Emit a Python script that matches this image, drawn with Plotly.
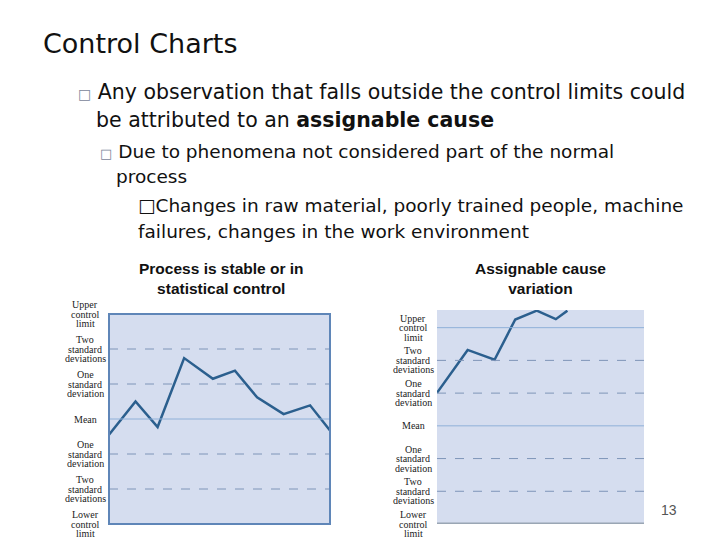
import plotly.graph_objects as go

left_x = [0, 1.2, 2.2, 3.4, 4.7, 5.7, 6.7, 7.9, 9.1, 10]
left_y = [-0.45, 0.50, -0.23, 1.74, 1.15, 1.38, 0.62, 0.14, 0.39, -0.33]
right_x = [0, 1.48, 2.78, 3.78, 4.82, 5.74, 6.3]
right_y = [1.01, 2.32, 2.02, 3.25, 3.52, 3.26, 3.52]
level_vals = [3, 2, 1, 0, -1, -2, -3]
level_labels = [["Upper", "control", "limit"], ["Two", "standard", "deviations"], ["One", "standard", "deviation"],
                ["Mean"], ["One", "standard", "deviation"], ["Two", "standard", "deviations"], ["Lower", "control", "limit"]]

LINE = "#2b5f8e"
REF = "#8fb0d8"
OFF = 8  # page body margin
fig = go.Figure()
fig.add_trace(go.Scatter(x=left_x, y=left_y, mode="lines", line=dict(color=LINE, width=2.5), xaxis="x", yaxis="y", showlegend=False))
fig.add_trace(go.Scatter(x=right_x, y=right_y, mode="lines", line=dict(color=LINE, width=2.5), xaxis="x2", yaxis="y2", showlegend=False))

ax = dict(showgrid=False, zeroline=False, showticklabels=False, ticks="", fixedrange=True)
def dx(a, b): return [(a-OFF)/720, (b-OFF)/720]
def dy(top, bot): return [(540-(bot-OFF))/540, (540-(top-OFF))/540]
fig.update_layout(
    width=720, height=540, margin=dict(l=0, r=0, t=0, b=0),
    paper_bgcolor="white", plot_bgcolor="#d5ddef",
    xaxis=dict(domain=dx(109, 330), range=[0, 10], **ax),
    yaxis=dict(domain=dy(314, 524), range=[-3, 3], **ax),
    xaxis2=dict(domain=dx(437, 644), range=[0, 10], **ax),
    yaxis2=dict(domain=dy(310, 524), range=[-3, 3.54], **ax),
)

shapes = []
for v in [2, 1, 0, -1, -2]:
    dash = "solid" if v == 0 else "dash"
    col = REF if v == 0 else "#7f95b8"
    shapes.append(dict(type="line", xref="x domain", yref="y", x0=0, x1=1, y0=v, y1=v, line=dict(color=col, width=1, dash=dash)))
for v in [3, 2, 1, 0, -1, -2]:
    dash = "solid" if v in (3, 0) else "dash"
    col = REF if v in (3, 0) else "#7f95b8"
    shapes.append(dict(type="line", xref="x2 domain", yref="y2", x0=0, x1=1, y0=v, y1=v, line=dict(color=col, width=1, dash=dash)))
shapes.append(dict(type="line", xref="x2 domain", yref="y2", x0=0, x1=1, y0=-3, y1=-3, line=dict(color="#9aa6b4", width=3)))
shapes.append(dict(type="rect", xref="x domain", yref="y domain", x0=0, x1=1, y0=0, y1=1, line=dict(color="#5f86b8", width=2)))
fig.update_layout(shapes=shapes)

ann = []
sf = dict(family="Liberation Serif", size=10, color="#222")
for v, lines in zip(level_vals, level_labels):
    n = len(lines)
    for i, ln in enumerate(lines):
        shift = ((n-1)/2 - i) * 9.5
        ann.append(dict(text=ln, x=(85-OFF)/720, y=v, xref="paper", yref="y", yshift=shift, showarrow=False, font=sf, xanchor="center", yanchor="middle"))
        ann.append(dict(text=ln, x=(413-OFF)/720, y=v, xref="paper", yref="y2", yshift=shift, showarrow=False, font=sf, xanchor="center", yanchor="middle"))

def txt(s, x, y, size, color="#111", anchor="left", family="DejaVu Sans"):
    ann.append(dict(text=s, x=(x-OFF)/720, y=1-(y-OFF)/540, xref="paper", yref="paper", showarrow=False,
                    font=dict(family=family, size=size, color=color), xanchor=anchor, yanchor="middle"))

txt("Control Charts", 41, 44, 27)
txt("<span style='color:#7a869a;font-size:14px'>□</span> Any observation that falls outside the control limits could", 76, 92, 20.5)
txt("be attributed to an <b>assignable cause</b>", 94, 120, 20.5)
txt("<span style='color:#7a869a;font-size:13px'>□</span> Due to phenomena not considered part of the normal", 98, 151, 18.5)
txt("process", 114, 177, 18.5)
txt("□Changes in raw material, poorly trained people, machine", 136, 205, 18.5)
txt("failures, changes in the work environment", 136, 232, 18.5)
txt("<b>Process is stable or in<br>statistical control</b>", 221, 278, 15.5, anchor="center", family="Liberation Sans")
txt("<b>Assignable cause<br>variation</b>", 540, 278, 15.5, anchor="center", family="Liberation Sans")
txt("13", 669, 510, 14, color="#555", anchor="center", family="Liberation Sans")
fig.update_layout(annotations=ann)

fig.write_html("out.html")
